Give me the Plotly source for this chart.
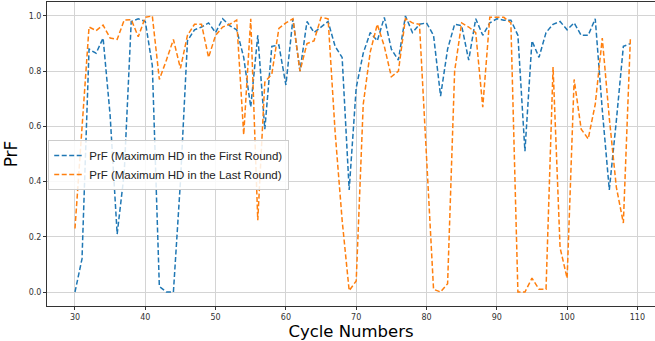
import plotly.graph_objects as go

cycles = list(range(30, 110))

prf_first = [
    0.00, 0.12, 0.88, 0.865, 0.92, 0.64, 0.21, 0.43, 0.98, 0.99,
    0.98, 0.82, 0.02, 0.00, 0.00, 0.40, 0.91, 0.95, 0.96, 0.975,
    0.94, 0.99, 0.965, 0.95, 0.85, 0.67, 0.93, 0.59, 0.89, 0.895,
    0.75, 0.99, 0.80, 0.98, 0.94, 0.96, 0.98, 0.89, 0.85, 0.37,
    0.74, 0.865, 0.94, 0.91, 0.995, 0.88, 0.84, 1.00, 0.94, 0.97,
    0.975, 0.93, 0.71, 0.88, 0.97, 0.965, 0.84, 0.99, 0.93, 0.975,
    0.99, 0.985, 0.985, 0.93, 0.51, 0.91, 0.85, 0.94, 0.97, 0.98,
    0.95, 0.975, 0.93, 0.93, 0.99, 0.66, 0.37, 0.62, 0.89, 0.90,
]

prf_last = [
    0.23, 0.60, 0.96, 0.947, 0.967, 0.92, 0.915, 0.985, 0.987, 0.925,
    0.995, 1.00, 0.77, 0.84, 0.915, 0.81, 0.93, 0.97, 0.97, 0.85,
    0.93, 0.96, 0.97, 0.985, 0.57, 0.99, 0.26, 0.76, 0.79, 0.955,
    0.975, 0.99, 0.80, 0.90, 0.91, 0.995, 0.99, 0.58, 0.26, 0.005,
    0.04, 0.68, 0.87, 0.97, 0.89, 0.78, 0.80, 0.99, 0.975, 0.97,
    0.48, 0.01, 0.00, 0.03, 0.80, 0.975, 0.96, 0.94, 0.67, 0.995,
    0.995, 0.995, 0.975, 0.00, 0.00, 0.05, 0.01, 0.01, 0.815, 0.16,
    0.05, 0.77, 0.59, 0.555, 0.68, 0.92, 0.63, 0.38, 0.25, 0.92,
]

names = ["PrF (Maximum HD in the First Round)", "PrF (Maximum HD in the Last Round)"]
colors = ["#1f77b4", "#ff7f0e"]

fig = go.Figure()
for vals, name, col in zip([prf_first, prf_last], names, colors):
    fig.add_trace(go.Scatter(
        x=cycles, y=vals, mode="lines", name=name,
        line=dict(color=col, width=1.5, dash="5px,2.5px"),
    ))

font_family = "DejaVu Sans"
fig.update_layout(
    width=655, height=341,
    margin=dict(l=47, r=0, t=2, b=35),
    paper_bgcolor="white", plot_bgcolor="white",
    font=dict(family=font_family, color="#000000"),
    showlegend=True,
    legend=dict(
        x=0.002, y=0.546, xanchor="left", yanchor="top",
        bgcolor="rgba(255,255,255,0.85)", bordercolor="#cccccc", borderwidth=1,
        font=dict(size=11.5, family="Liberation Sans", color="#222222"),
        itemwidth=30, tracegroupgap=0,
    ),
)
fig.update_xaxes(
    range=[26.02, 112.5], tickmode="array", tickvals=list(range(30, 120, 10)),
    showgrid=True, gridcolor="#d4d4d4", gridwidth=1,
    showline=True, linecolor="#333333", linewidth=1, mirror=True,
    ticks="outside", ticklen=3, tickcolor="#333333",
    tickfont=dict(size=8, family=font_family, color="#333333"),
    zeroline=False,
    title=dict(text="Cycle Numbers", font=dict(size=16.5, family=font_family), standoff=2),
)
fig.update_yaxes(
    range=[-0.0507, 1.0507], tickmode="array", tickvals=[0, 0.2, 0.4, 0.6, 0.8, 1.0],
    tickformat=".1f",
    showgrid=True, gridcolor="#d4d4d4", gridwidth=1,
    showline=True, linecolor="#333333", linewidth=1, mirror=False,
    ticks="outside", ticklen=3, tickcolor="#333333",
    tickfont=dict(size=8, family=font_family, color="#333333"),
    zeroline=False,
    title=dict(text="PrF", font=dict(size=17, family=font_family), standoff=6),
)

fig.write_html(
    "out.html",
    config={"displayModeBar": False},
    post_script="document.body.style.margin='0';document.body.style.padding='0';",
)
